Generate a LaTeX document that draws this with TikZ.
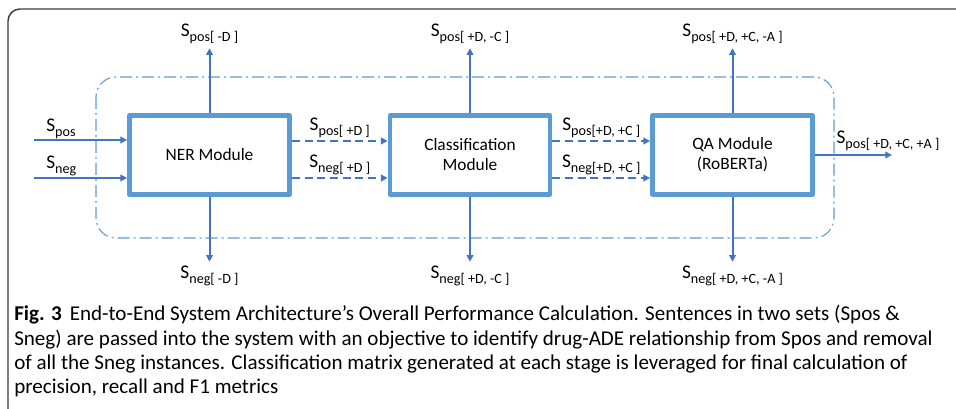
\documentclass[tikz,border=0pt]{standalone}
\usepackage{fontspec}
\setmainfont{Carlito}
\usetikzlibrary{arrows.meta, positioning, calc}

\definecolor{boxblue}{HTML}{5B9BD5}
\definecolor{arrblue}{HTML}{4472C4}
\definecolor{framegray}{HTML}{3C3C3C}

\newcommand{\lblfont}{\fontsize{13}{15}\selectfont}
\newcommand{\setfont}{\fontsize{14.5}{16}\selectfont}
\newcommand{\subfont}{\fontsize{10.6}{12}\selectfont}
\newcommand{\Sset}[1]{S\raisebox{-3.8pt}{\subfont #1}}

\tikzset{
  module/.style={draw=boxblue, line width=3.6pt, minimum width=120pt, minimum height=59pt,
    inner sep=0pt, align=center, font=\lblfont},
  flow/.style={draw=arrblue, line width=1.5pt, -{Triangle[length=5pt,width=5pt]}},
  pass/.style={flow, dash pattern=on 6pt off 3.5pt},
  lbl/.style={font=\setfont, inner sep=0pt},
  capline/.style={anchor=base west, inner sep=0pt, font=\fontsize{15.8}{19}\selectfont},
}

\begin{document}
\begin{tikzpicture}[x=0.75pt, y=-0.75pt, line join=round]
    \useasboundingbox (0,0) rectangle (956,409);
    \draw[framegray, line width=1.1pt, rounded corners=9pt] (8,409) -- (8,9) -- (956,9);

    % system boundary
    \draw[boxblue, line width=0.8pt, dash pattern=on 9pt off 3pt on 1.5pt off 3pt,
      rounded corners=15pt] (96,77) rectangle (834,238);

    \node[module] (ner) at (209.5,155) {NER Module};
    \node[module] (cls) at (470,155) {Classification\\Module};
    \node[module] (qa)  at (732.5,155) {QA Module\\(RoBERTa)};

    % inputs
    \coordinate (inpos) at (34,140);
    \coordinate (inneg) at (34,178);
    \draw[flow] (inpos) -- (ner.west |- inpos);
    \draw[flow] (inneg) -- (ner.west |- inneg);
    \node[lbl, above right=1pt and 9pt of inpos] (spos) {\Sset{pos}};
    \node[lbl, above right=1pt and 9pt of inneg] (sneg) {\Sset{neg}};

    % passed sets
    \coordinate (ra) at (0,141);
    \coordinate (rb) at (0,178);
    \draw[pass] (ner.east |- ra) -- (cls.west |- ra) node[lbl, midway, above=1.5pt] {\Sset{pos[ +D ]}};
    \draw[pass] (ner.east |- rb) -- (cls.west |- rb) node[lbl, midway, above=1.5pt] {\Sset{neg[ +D ]}};
    \draw[pass] (cls.east |- ra) -- (qa.west |- ra) node[lbl, midway, above=1.5pt] {\Sset{pos[+D, +C ]}};
    \draw[pass] (cls.east |- rb) -- (qa.west |- rb) node[lbl, midway, above=1.5pt] {\Sset{neg[+D, +C ]}};

    % outputs up / down
    \foreach \m/\up/\dn in {ner/{[ -D ]}/{[ -D ]}, cls/{[ +D, -C ]}/{[ +D, -C ]}, qa/{[ +D, +C, -A ]}/{[ +D, +C, -A ]}} {
        \coordinate (\m up) at ($(\m.north)+(0,-65)$);
        \coordinate (\m dn) at ($(\m.south)+(0,65)$);
        \draw[flow] (\m.north) -- (\m up);
        \draw[flow] (\m.south) -- (\m dn);
        \node[lbl, above=3pt of \m up] (\m pos) {\Sset{pos\up}};
        \node[lbl, below=3pt of \m dn] (\m neg) {\Sset{neg\dn}};
    }

    \coordinate (out) at (892,155);
    \draw[flow] (qa.east) -- (out);
    \node[lbl, above right=3pt and 16pt of qa.east] (final) {\Sset{pos[ +D, +C, +A ]}};

    % caption
    \node[capline] (cap1) at (14,321) {\textbf{Fig. 3}\hspace{6pt}End-to-End System Architecture’s Overall Performance Calculation. Sentences in two sets (Spos \&};
    \node[capline] (cap2) at (14,345) {Sneg) are passed into the system with an objective to identify drug-ADE relationship from Spos and removal};
    \node[capline] (cap3) at (14,369) {of all the Sneg instances. Classification matrix generated at each stage is leveraged for final calculation of};
    \node[capline] (cap4) at (14,393) {precision, recall and F1 metrics};
\end{tikzpicture}
\end{document}
